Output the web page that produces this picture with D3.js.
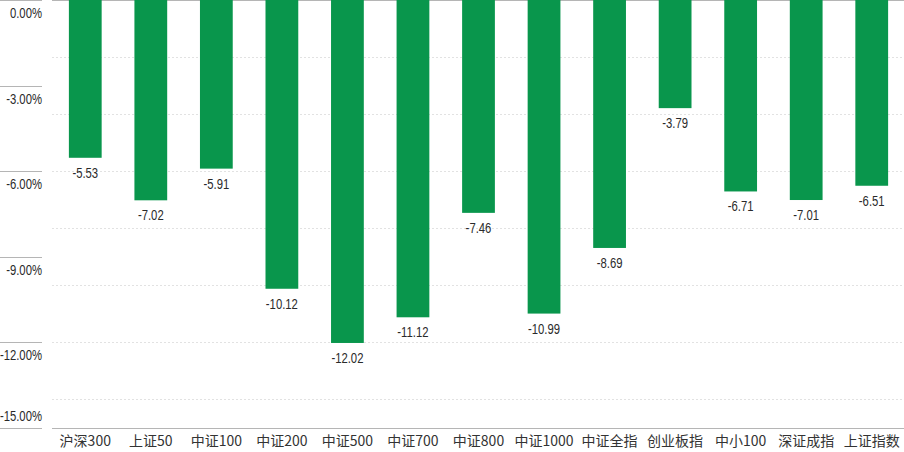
<!DOCTYPE html>
<html lang="zh">
<head>
  <meta charset="UTF-8">
  <title>指数涨跌幅</title>
  <style>
    body { margin: 0; background: #fff; }
    svg { display: block; }
    .lbl { font-family: "Liberation Sans", Arial, sans-serif; font-size: 14.5px; fill: #2a2a2a; }
    .cat { font-family: "Noto Sans CJK SC", sans-serif; font-size: 14px; fill: #333; }
  </style>
</head>
<body>
  <div id="chart"></div>
  <script src="https://cdn.jsdelivr.net/npm/d3@7"></script>
  <script>
    // 指数名称
    var categories = ['沪深300', '上证50', '中证100', '中证200', '中证500', '中证700', '中证800', '中证1000', '中证全指', '创业板指', '中小100', '深证成指', '上证指数'];
    // 区间涨跌幅 (%)
    var values = [-5.53, -7.02, -5.91, -10.12, -12.02, -11.12, -7.46, -10.99, -8.69, -3.79, -6.71, -7.01, -6.51];
    var yTicks = [0, -3, -6, -9, -12, -15];
    var gridTicks = [-2, -4, -6, -8, -10, -12, -14];

    var W = 904, H = 452;
    var svg = d3.select('#chart').append('svg').attr('width', W).attr('height', H);

    var x = d3.scaleBand().domain(categories).range([52.5, 904.5]).paddingInner(0.5).paddingOuter(0.25);
    var y = d3.scaleLinear().domain([0, -15]).range([0, 428]);
    var fmt = function(d){ return d3.format('.2f')(d).replace('\u2212', '-'); };
    var sx = 0.78; // 窄字体效果

    // 网格线
    svg.append('g').selectAll('line').data(gridTicks).enter().append('line')
      .attr('x1', 52).attr('x2', W)
      .attr('y1', function(d){ return Math.round(y(d)) + 0.5; })
      .attr('y2', function(d){ return Math.round(y(d)) + 0.5; })
      .attr('stroke', '#e2e2e2').attr('stroke-dasharray', '2,2');

    // 顶部 / 底部 轴线
    svg.append('line').attr('x1', 52).attr('x2', W).attr('y1', 0.5).attr('y2', 0.5).attr('stroke', '#b5b5b5');
    svg.append('line').attr('x1', 52).attr('x2', W).attr('y1', y(-15) + 0.5).attr('y2', y(-15) + 0.5).attr('stroke', '#b5b5b5');

    // 左侧刻度
    var yAx = svg.append('g');
    yAx.selectAll('line').data(yTicks).enter().append('line')
      .attr('x1', 0).attr('x2', 42)
      .attr('y1', function(d){ return Math.round(y(d)) + 0.5; })
      .attr('y2', function(d){ return Math.round(y(d)) + 0.5; })
      .attr('stroke', '#b5b5b5');
    yAx.selectAll('text').data(yTicks).enter().append('text')
      .attr('class', 'lbl')
      .attr('text-anchor', 'end')
      .attr('transform', function(d, i){
        // 最后一个标签在线上方
        var ty = i === yTicks.length - 1 ? y(d) - 7 : y(d) + 18;
        return 'translate(42,' + ty + ') scale(' + sx + ',1)';
      })
      .text(function(d){ return fmt(d) + '%'; });

    // 柱子
    svg.append('g').selectAll('rect').data(values).enter().append('rect')
      .attr('x', function(d, i){ return x(categories[i]); })
      .attr('y', y(0))
      .attr('width', x.bandwidth())
      .attr('height', function(d){ return y(d) - y(0); })
      .attr('fill', '#09964c');

    // 数值标签
    svg.append('g').selectAll('text').data(values).enter().append('text')
      .attr('class', 'lbl')
      .attr('text-anchor', 'middle')
      .attr('transform', function(d, i){
        return 'translate(' + (x(categories[i]) + x.bandwidth() / 2) + ',' + (y(d) + 20) + ') scale(' + sx + ',1)';
      })
      .text(fmt);

    // 类别标签
    svg.append('g').selectAll('text').data(categories).enter().append('text')
      .attr('class', 'cat')
      .attr('text-anchor', 'middle')
      .attr('x', function(d){ return x(d) + x.bandwidth() / 2; })
      .attr('y', 446)
      .text(function(d){ return d; });
  </script>
</body>
</html>
